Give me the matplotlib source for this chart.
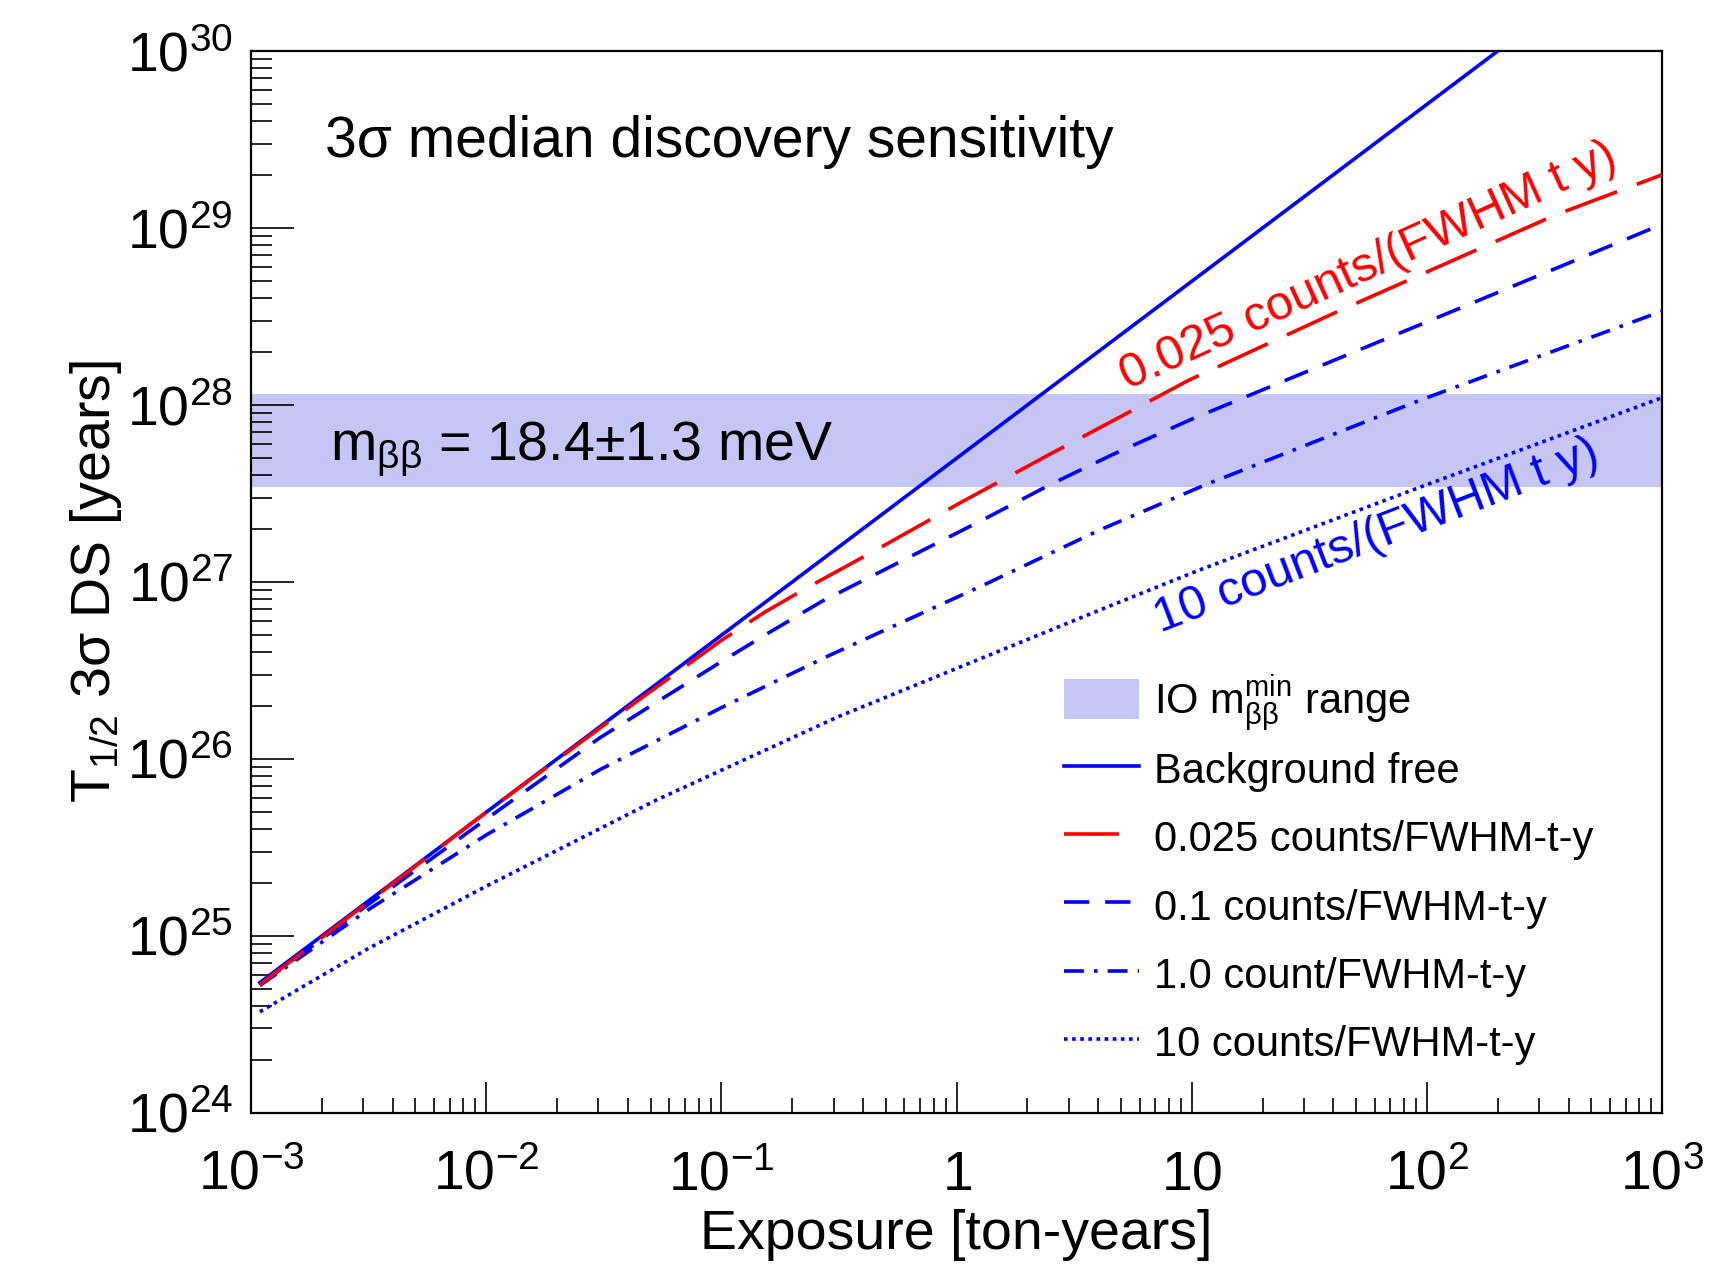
import numpy as np
import matplotlib
matplotlib.use('Agg')
import matplotlib.pyplot as plt
from matplotlib.ticker import LogLocator, NullFormatter
from matplotlib.patches import Patch

plt.rcParams['font.family'] = ['Liberation Sans', 'DejaVu Sans']
plt.rcParams['mathtext.fontset'] = 'custom'
plt.rcParams['mathtext.rm'] = 'Liberation Sans'
plt.rcParams['mathtext.it'] = 'Liberation Sans:italic'
plt.rcParams['mathtext.bf'] = 'Liberation Sans:bold'

# ---------------- data ----------------
# Background free
exp_bf = [1.09e-3, 200.0]
t_bf = [5.45e24, 1.0e30]

# 0.025 counts/FWHM-t-y
exp_0025 = [1.09e-3, 0.01, 0.0316, 0.1, 0.153, 0.226, 0.46, 1.03, 2.48, 4.98, 9.7, 41.0, 349.0, 1000.0]
t_0025 = [5.3e24, 5.0e25, 1.55e26, 4.68e26, 6.76e26, 9.12e26, 1.53e27, 2.79e27, 5.25e27, 8.59e27,
          1.38e28, 3.34e28, 1.18e29, 2.0e29]

# 0.1 counts/FWHM-t-y
exp_01 = [1.09e-3, 3.16e-3, 0.01, 0.0305, 0.1, 0.153, 0.267, 1.29, 2.5, 4.61, 10.0, 100.0, 1000.0]
t_01 = [5.3e24, 1.51e25, 4.57e25, 1.32e26, 3.55e26, 5.01e26, 7.76e26, 2.24e27, 3.55e27, 5.25e27,
        8.32e27, 2.95e28, 1.05e29]

# 1.0 count/FWHM-t-y
exp_1 = [1.09e-3, 3.16e-3, 0.01, 0.0305, 0.1, 0.288, 1.29, 4.07, 11.3, 94.4, 1000.0]
t_1 = [5.25e24, 1.41e25, 3.72e25, 8.71e25, 1.95e26, 3.85e26, 9.55e26, 1.97e27, 3.52e27, 1.07e28, 3.39e28]

# 10 counts/FWHM-t-y
exp_10 = [1.09e-3, 3.16e-3, 0.01, 0.0533, 0.316, 4.07, 10.8, 100.0, 1000.0]
t_10 = [3.73e24, 8.51e24, 1.91e25, 5.89e25, 1.74e26, 6.95e26, 1.17e27, 3.55e27, 1.10e28]

# IO m_bb range band
band_low = 3.44e27
band_high = 1.16e28

band_label = r'IO $\mathregular{m^{min}_{ββ}}$ range'
line_labels = ['Background free', '0.025 counts/FWHM-t-y',
               '0.1 counts/FWHM-t-y', '1.0 count/FWHM-t-y', '10 counts/FWHM-t-y']

x_ticks = [1e-3, 1e-2, 1e-1, 1.0, 10.0, 1e2, 1e3]
x_tick_labels = [r'$\mathregular{10^{-3}}$', r'$\mathregular{10^{-2}}$', r'$\mathregular{10^{-1}}$',
                 r'$\mathregular{1}$', r'$\mathregular{10}$', r'$\mathregular{10^{2}}$', r'$\mathregular{10^{3}}$']
y_ticks = [1e24, 1e25, 1e26, 1e27, 1e28, 1e29, 1e30]
y_tick_labels = [r'$\mathregular{10^{%d}}$' % k for k in range(24, 31)]

# ---------------- figure ----------------
BLUE = '#0000ff'
RED = '#ff0000'
BAND = '#c6c6f6'
lw = 2.6

fig = plt.figure(figsize=(17.29, 12.67), dpi=100)
ax = fig.add_axes([0.1452, 0.1216, 0.8161, 0.8381])
ax.set_xscale('log')
ax.set_yscale('log')
ax.set_xlim(1e-3, 1e3)
ax.set_ylim(1e24, 1e30)

ax.axhspan(band_low, band_high, color=BAND, lw=0, zorder=1)

l_bf, = ax.plot(exp_bf, t_bf, color=BLUE, lw=lw, zorder=3)
l_10, = ax.plot(exp_10, t_10, color=BLUE, lw=lw, linestyle=(0, (1.0, 1.25)), zorder=3)
l_1, = ax.plot(exp_1, t_1, color=BLUE, lw=lw, linestyle=(0, (5.5, 2.8, 1.0, 2.8)), zorder=3)
l_01, = ax.plot(exp_01, t_01, color=BLUE, lw=lw, linestyle=(0, (7, 4.4)), zorder=3)
l_0025, = ax.plot(exp_0025, t_0025, color=RED, lw=lw, linestyle=(0, (15.3, 5.8)), zorder=4)

# ticks
ax.set_xticks(x_ticks, labels=x_tick_labels)
ax.set_yticks(y_ticks, labels=y_tick_labels)
ax.xaxis.set_minor_locator(LogLocator(base=10, subs=np.arange(2, 10), numticks=40))
ax.yaxis.set_minor_locator(LogLocator(base=10, subs=np.arange(2, 10), numticks=40))
ax.xaxis.set_minor_formatter(NullFormatter())
ax.yaxis.set_minor_formatter(NullFormatter())
ax.tick_params(axis='x', which='major', direction='in', length=22, width=1.2, pad=55.4,
               labelsize=40, top=False, bottom=True)
ax.tick_params(axis='x', which='minor', direction='in', length=11, width=1.2, top=False, bottom=True)
ax.tick_params(axis='y', which='major', direction='in', length=31, width=1.2, pad=13,
               labelsize=40, right=False, left=True)
ax.tick_params(axis='y', which='minor', direction='in', length=15, width=1.2, right=False, left=True)
for lab in ax.get_xticklabels():
    lab.set_verticalalignment('baseline')
for sp in ax.spines.values():
    sp.set_linewidth(1.6)

# axis titles
ax.set_xlabel('Exposure [ton-years]', fontsize=40)
ax.xaxis.set_label_coords(0.5, -0.128)
ax.xaxis.label.set_verticalalignment('baseline')
ax.set_ylabel(r'T$_{\mathregular{1/2}}$ 3σ DS [years]', fontsize=40)
ax.yaxis.set_label_coords(-0.100, 0.5)
ax.yaxis.label.set_verticalalignment('baseline')

# annotations
ax.text(0.0524, 0.900, '3σ median discovery sensitivity', transform=ax.transAxes,
        fontsize=41, va='baseline', ha='left')
ax.text(0.056, 0.615, r'm$_{\mathregular{ββ}}$ = 18.4±1.3 meV', transform=ax.transAxes,
        fontsize=40, va='baseline', ha='left')
ax.text(5.36, 1.22e28, '0.025 counts/(FWHM t y)', color=RED, fontsize=35, rotation=24.5,
        rotation_mode='anchor', ha='left', va='baseline', zorder=5)
ax.text(7.33, 5.15e26, '10 counts/(FWHM t y)', color=BLUE, fontsize=35, rotation=21.0,
        rotation_mode='anchor', ha='left', va='baseline', zorder=5)

# legend (band entry and line entries as two blocks)
leg_kw = dict(loc='upper left', frameon=False, fontsize=30, handlelength=1.8, handleheight=1.1,
              handletextpad=0.37, labelspacing=0.60, borderpad=0, borderaxespad=0)
leg1 = ax.legend([Patch(facecolor=BAND, edgecolor='none')], [band_label],
                 bbox_to_anchor=(0.576, 0.414), **leg_kw)
ax.add_artist(leg1)
ax.legend([l_bf, l_0025, l_01, l_1, l_10], line_labels,
          bbox_to_anchor=(0.576, 0.3427), **leg_kw)

fig.savefig('out.png', dpi=100)
